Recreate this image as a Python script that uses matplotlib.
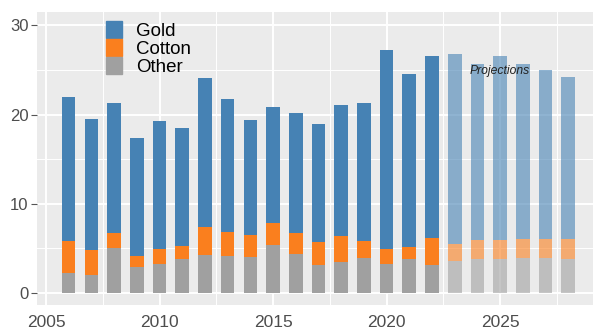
import matplotlib
matplotlib.use("Agg")
import matplotlib.pyplot as plt
from matplotlib.patches import Patch
import numpy as np

years = list(range(2006, 2029))
other = [2.3, 2.0, 5.1, 2.9, 3.3, 3.8, 4.3, 4.2, 4.1, 5.4, 4.4,
         3.2, 3.5, 3.9, 3.3, 3.8, 3.2,
         3.6, 3.8, 3.8, 3.9, 3.9, 3.8]
cotton = [3.5, 2.8, 1.6, 1.3, 1.6, 1.5, 3.1, 2.7, 2.4, 2.4, 2.3,
          2.5, 2.9, 1.9, 1.6, 1.4, 3.0,
          1.9, 2.2, 2.2, 2.2, 2.2, 2.3]
total = [22.0, 19.5, 21.3, 17.4, 19.3, 18.5, 24.1, 21.8, 19.4, 20.8, 20.2,
         19.0, 21.1, 21.3, 27.2, 24.6, 26.6,
         26.8, 25.7, 26.6, 25.7, 25.0, 24.2]
first_projection = 2023

plt.rcParams['font.family'] = ['Liberation Sans', 'DejaVu Sans']

x = np.array(years)
other = np.array(other)
cotton = np.array(cotton)
gold = np.array(total) - other - cotton

blue, orange, grey = '#4682B4', '#FA7F1E', '#A0A0A0'

fig = plt.figure(figsize=(5.95, 3.31), dpi=100)
ax = fig.add_axes([0.062, 0.078, 0.935, 0.886])
ax.set_facecolor('#EBEBEB')

w = 0.6
hist = x < first_projection
proj = ~hist
for mask, alpha in [(hist, 1.0), (proj, 0.6)]:
    ax.bar(x[mask], other[mask], w, color=grey, alpha=alpha, zorder=3)
    ax.bar(x[mask], cotton[mask], w, bottom=other[mask], color=orange, alpha=alpha, zorder=3)
    ax.bar(x[mask], gold[mask], w, bottom=(other + cotton)[mask], color=blue, alpha=alpha, zorder=3)

ax.text(2025.0, 24.9, 'Projections', fontsize=8.7, style='italic', color='#222222',
        ha='center', va='center', zorder=4)

ax.set_xlim(2004.6, 2029.1)
ax.set_ylim(-1.35, 31.5)
ax.set_xticks([2005, 2010, 2015, 2020, 2025])
ax.set_yticks([0, 10, 20, 30])
ax.set_xticks(np.arange(2007.5, 2029, 5), minor=True)
ax.set_yticks([5, 15, 25], minor=True)
ax.grid(which='major', color='white', linewidth=1.4, zorder=0)
ax.grid(which='minor', color='white', linewidth=0.7, zorder=0)
ax.set_axisbelow(True)
for s in ax.spines.values():
    s.set_visible(False)
ax.tick_params(axis='y', which='major', length=4, color='#555555', labelsize=12,
               labelcolor='#4D4D4D', pad=2)
ax.tick_params(axis='x', which='major', length=0, labelsize=12.5,
               labelcolor='#4D4D4D', pad=7)
ax.tick_params(which='minor', length=0)

handles = [Patch(color=blue, label='Gold'), Patch(color=orange, label='Cotton'),
           Patch(color=grey, label='Other')]
leg = ax.legend(handles=handles, loc='upper left', bbox_to_anchor=(0.113, 0.99),
                frameon=False, fontsize=13.5, handlelength=0.85, handleheight=1.0,
                handletextpad=0.75, labelspacing=-0.05, borderaxespad=0.25,
                borderpad=0.1)

fig.savefig('out.png', dpi=100)
